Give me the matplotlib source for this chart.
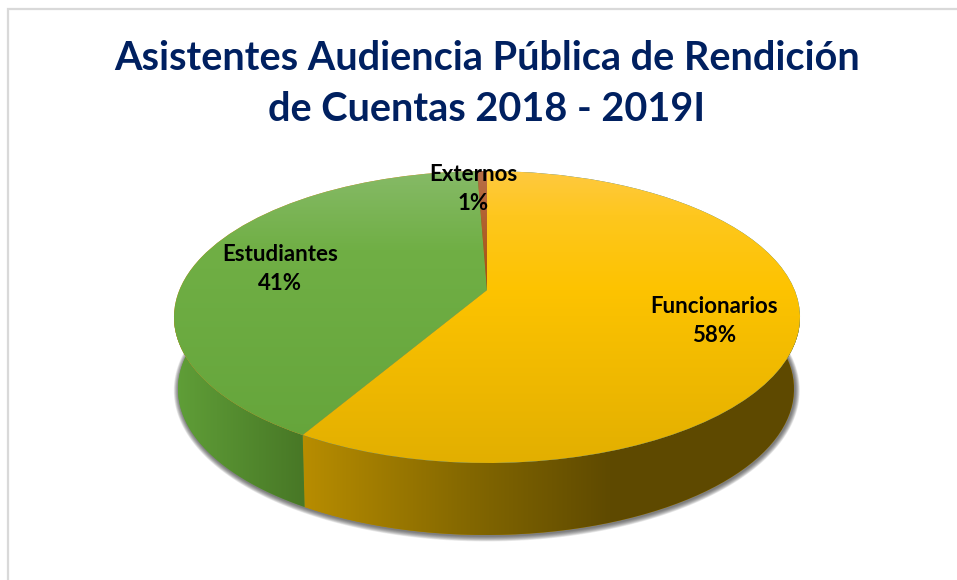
import numpy as np
import matplotlib
matplotlib.use("Agg")
import matplotlib.pyplot as plt
from matplotlib.colors import to_rgb
from matplotlib.path import Path
from matplotlib.patches import PathPatch
from matplotlib.transforms import Transform

categories = ["Funcionarios", "Estudiantes", "Externos"]
values = [58.4, 41.0, 0.6]
title_text = "Asistentes Audiencia Pública de Rendición\nde Cuentas 2018 - 2019I"

# styling / layout
W, H = 957, 580
CX, CY, RY, TILT = 487.0, 317.0, 146.0, 27.0 / 146.0
RX = 313.0
label_pos = [(714, 321), (280, 269), (473, 189)]
top_grad = [
    [(171, "#FFC940"), (215, "#FEC71E"), (290, "#FDC300"), (463, "#E2AF00")],
    [(171, "#86BA67"), (250, "#70AF45"), (463, "#64A43A")],
    [(171, "#B86E48"), (290, "#A84F0C")],
]
side_grad = [
    [(302, "#B88D00"), (470, "#836700"), (610, "#5F4A00"), (800, "#5E4900")],
    [(174, "#609F38"), (302, "#487826")],
    [(470, "#8A4A10"), (490, "#8A4A10")],
]


class Persp(Transform):
    """Unit circle -> pixel coordinates of the tilted disc."""
    input_dims = output_dims = 2
    is_separable = False
    has_inverse = False

    def __init__(self, scale=1.0, dx=0.0, dy=0.0):
        super().__init__()
        self.scale, self.dx, self.dy = scale, dx, dy

    def transform_non_affine(self, pts):
        pts = np.asarray(pts, float)
        u, v = pts[:, 0], pts[:, 1]
        w = 1 + TILT * v
        a = RX * np.sqrt(1 - TILT ** 2)
        x = a * u / w * self.scale
        y = (RY * v + RY * TILT) / w
        return np.column_stack([CX + self.dx + x, CY + self.dy - y])

    def transform(self, pts):
        return self.transform_non_affine(pts)


def gradient(stops, vertical):
    pos = np.array([s[0] for s in stops], float)
    cols = np.array([to_rgb(s[1]) for s in stops])
    n = H if vertical else W
    t = np.arange(n) + 0.5
    arr = np.column_stack([np.interp(t, pos, cols[:, i]) for i in range(3)])
    return arr[:, None, :] if vertical else arr[None, :, :]


fig = plt.figure(figsize=(W / 100, H / 100), dpi=100, facecolor="white")
ax = fig.add_axes([0, 0, 1, 1])

wedges, _ = ax.pie(values, startangle=90, counterclock=False, radius=1.0,
                   wedgeprops={"linewidth": 0})
ax.set_aspect("auto")
ax.set_xlim(0, W)
ax.set_ylim(H, 0)
ax.axis("off")

top = Persp()
bottom = Persp(scale=0.984, dx=-1.0, dy=72.0)

# soft shadow under the disc
t = np.linspace(0, 2 * np.pi, 361)
circle = np.column_stack([np.cos(t), np.sin(t)])
base = bottom.transform(circle)
mid = base.mean(axis=0)
for grow in np.linspace(5.0, 0.5, 10):
    sx = 1 + grow / 308.0
    sy = 1 + grow / 146.0
    pts = (base - mid) * [sx, sy] + mid + [0.8, 1.0]
    ax.add_patch(PathPatch(Path(pts), facecolor="#303030", edgecolor="none",
                           alpha=0.09, zorder=1))

# side walls (upper edge pulled inside the back rim so it never peeks out)
for i, wd in enumerate(wedges):
    th = np.radians(np.linspace(wd.theta1, wd.theta2, 200))
    unit = np.column_stack([np.cos(th), np.sin(th)])
    inset = 1 - 0.015 * np.clip((unit[:, 1] + 0.18) / 0.3, 0, 1)
    pts = np.vstack([top.transform(unit * inset[:, None]), bottom.transform(unit)[::-1]])
    clip = PathPatch(Path(pts), facecolor=side_grad[i][0][1], edgecolor="none", zorder=2)
    ax.add_patch(clip)
    im = ax.imshow(gradient(side_grad[i], False), extent=(0, W, H, 0), origin="upper",
                   aspect="auto", zorder=2.1, interpolation="bilinear")
    im.set_clip_path(clip)

# top surfaces
for i, wd in enumerate(wedges):
    wd.set_transform(top + ax.transData)
    wd.set_zorder(3)
    wd.set_clip_on(False)
    im = ax.imshow(gradient(top_grad[i], True), extent=(0, W, H, 0), origin="upper",
                   aspect="auto", zorder=3.1, interpolation="bilinear")
    im.set_clip_path(wd)

ax.set_xlim(0, W)
ax.set_ylim(H, 0)
ax.set_aspect("auto")

total = sum(values)
for name, val, (x, y) in zip(categories, values, label_pos):
    ax.text(x, y, f"{name}\n{100 * val / total:.0f}%", ha="center", va="center",
            fontsize=16, fontweight="bold", family="Lato", color="black",
            linespacing=1.43, zorder=5)

ax.text(487, 84, title_text, ha="center", va="center", fontsize=28.5, fontweight="bold",
        family="Lato", color="#002060", linespacing=1.48, zorder=5)

# chart frame
ax.plot([7.5, 7.5, W], [H, 8.5, 8.5], color="#D9D9D9", lw=1.6, zorder=0,
        solid_joinstyle="miter", clip_on=True)

fig.savefig("out.png", dpi=100, facecolor="white")
